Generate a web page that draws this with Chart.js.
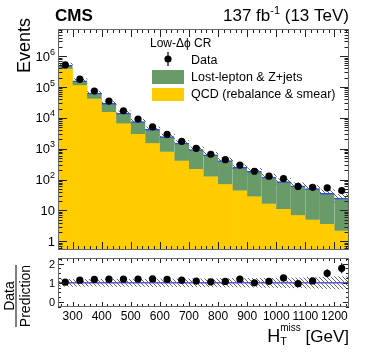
<!DOCTYPE html>
<html>
<head>
<meta charset="utf-8">
<script src="https://cdn.jsdelivr.net/npm/chart.js@4.4.0/dist/chart.umd.min.js"></script>
<style>
  html, body { margin: 0; padding: 0; background: #fff; }
  #wrap { position: relative; width: 374px; height: 359px; }
  canvas { position: absolute; left: 0; }
</style>
</head>
<body>
<div id="wrap">
  <canvas id="mainChart" width="374" height="254" style="top:0px"></canvas>
  <canvas id="ratioChart" width="374" height="105" style="top:254px"></canvas>
</div>
<script>
// bins of H_T^miss, 50 GeV wide
var htCenters = [275, 325, 375, 425, 475, 525, 575, 625, 675, 725, 775, 825, 875, 925, 975, 1025, 1075, 1125, 1175, 1225];
var dataCounts = [5.2e5, 1.8e5, 7.4e4, 3.5e4, 1.7e4, 9.1e3, 5.1e3, 2.9e3, 1730, 1030, 660, 440, 295, 186, 129, 108, 60, 56, 54, 44];
var qcdYield = [3.9e5, 1.14e5, 4.2e4, 1.56e4, 6.6e3, 3.0e3, 1.5e3, 790, 410, 220, 125, 71, 44, 28, 16.5, 11.2, 6.9, 5.0, 3.6, 2.2];
var lostLepYield = [1.15e5, 4.4e4, 2.1e4, 1.38e4, 7.7e3, 4.6e3, 2.75e3, 1670, 1110, 725, 504, 340, 204, 158, 103.5, 75, 56, 46, 32.4, 22.8];
var relUnc = [0.18, 0.18, 0.18, 0.19, 0.19, 0.19, 0.2, 0.2, 0.2, 0.21, 0.21, 0.22, 0.22, 0.23, 0.24, 0.25, 0.26, 0.28, 0.3, 0.32];

var xTickLabels = [300, 400, 500, 600, 700, 800, 900, 1000, 1100, 1200];
var yTickValues = [1, 10, 100, 1e3, 1e4, 1e5, 1e6];
var yTickLabels = ['1', '10', '10^2', '10^3', '10^4', '10^5', '10^6'];
var ratioTicks = [0, 1, 2];

var FONT = "'Liberation Sans', Arial, Helvetica, sans-serif";
var GREEN = '#699b69';
var YELLOW = '#ffcc00';
var BLUE = '#2f4fe0';

var predTotal = qcdYield.map(function(q, i) { return q + lostLepYield[i]; });
var ratioVals = dataCounts.map(function(d, i) { return d / predTotal[i]; });

function hatch() {
    var c = document.createElement('canvas');
    c.width = 4; c.height = 4;
    var g = c.getContext('2d');
    g.strokeStyle = '#555';
    g.lineWidth = 0.9;
    g.beginPath();
    g.moveTo(0, 0); g.lineTo(4, 4);
    g.moveTo(-1, 3); g.lineTo(1, 5);
    g.moveTo(3, -1); g.lineTo(5, 1);
    g.stroke();
    return g.createPattern(c, 'repeat');
}

function drawFrameTicks(chart, xMaj, xMin, yTicks) {
    var ctx = chart.ctx, a = chart.chartArea, xs = chart.scales.x;
    ctx.save();
    ctx.strokeStyle = '#222';
    ctx.lineWidth = 1;
    ctx.beginPath();
    for (var v = 260; v < 1250; v += 20) {
        var px = Math.round(xs.getPixelForValue(v)) + 0.5;
        var len = xTickLabels.indexOf(v) >= 0 ? xMaj : xMin;
        ctx.moveTo(px, a.bottom); ctx.lineTo(px, a.bottom - len);
        ctx.moveTo(px, a.top); ctx.lineTo(px, a.top + len);
    }
    yTicks.forEach(function(t) {
        var py = Math.round(chart.scales.y.getPixelForValue(t[0])) + 0.5;
        ctx.moveTo(a.left, py); ctx.lineTo(a.left + t[1], py);
        ctx.moveTo(a.right, py); ctx.lineTo(a.right - t[1], py);
    });
    ctx.stroke();
    ctx.strokeStyle = '#666';
    ctx.strokeRect(a.left + 0.5, a.top + 0.5, a.right - a.left - 1, a.bottom - a.top - 1);
    ctx.restore();
}

function drawPow(ctx, label, x, y) {
    var parts = label.split('^');
    ctx.font = '13px ' + FONT;
    var bw = ctx.measureText(parts[0]).width;
    var ew = 0;
    if (parts[1]) { ctx.font = '9px ' + FONT; ew = ctx.measureText(parts[1]).width; }
    ctx.textAlign = 'left';
    ctx.font = '13px ' + FONT;
    ctx.fillText(parts[0], x - bw - ew, y);
    if (parts[1]) { ctx.font = '9px ' + FONT; ctx.fillText(parts[1], x - ew, y - 6); }
}

function errBars(chart, counts, vals) {
    var ctx = chart.ctx, xs = chart.scales.x, ys = chart.scales.y;
    ctx.save();
    ctx.strokeStyle = '#000';
    ctx.lineWidth = 1.2;
    ctx.beginPath();
    vals.forEach(function(v, i) {
        var e = v / Math.sqrt(counts[i]);
        var px = xs.getPixelForValue(htCenters[i]);
        ctx.moveTo(px, ys.getPixelForValue(v + e));
        ctx.lineTo(px, ys.getPixelForValue(Math.max(v - e, ys.min)));
    });
    ctx.stroke();
    ctx.restore();
}

var mainDecor = {
    id: 'mainDecor',
    afterDatasetsDraw: function(chart) {
        errBars(chart, dataCounts, dataCounts);
    },
    afterDraw: function(chart) {
        var ctx = chart.ctx, a = chart.chartArea, ys = chart.scales.y;
        var ticks = [];
        for (var p = -1; p <= 7; p++) {
            for (var m = 1; m <= 9; m++) {
                var v = m * Math.pow(10, p);
                if (v >= ys.min && v <= ys.max) ticks.push([v, m === 1 ? 9 : 4.5]);
            }
        }
        drawFrameTicks(chart, 8, 4, ticks);

        ctx.save();
        ctx.fillStyle = '#000';
        yTickValues.forEach(function(v, i) {
            drawPow(ctx, yTickLabels[i], a.left - 3, ys.getPixelForValue(v) + 4.5);
        });

        // axis title
        ctx.save();
        ctx.translate(30, 18);
        ctx.rotate(-Math.PI / 2);
        ctx.font = '18px ' + FONT;
        ctx.textAlign = 'right';
        ctx.fillText('Events', 0, 0);
        ctx.restore();

        // header
        ctx.font = 'bold 17px ' + FONT;
        ctx.textAlign = 'left';
        ctx.fillText('CMS', 55, 21);
        ctx.font = '17px ' + FONT;
        var w2 = ctx.measureText(' (13 TeV)').width;
        ctx.font = '11px ' + FONT;
        var wSup = ctx.measureText('-1').width;
        ctx.font = '17px ' + FONT;
        var w1 = ctx.measureText('137 fb').width;
        var x0 = a.right - w2 - wSup - w1;
        ctx.fillText('137 fb', x0, 21);
        ctx.fillText(' (13 TeV)', x0 + w1 + wSup, 21);
        ctx.font = '11px ' + FONT;
        ctx.fillText('-1', x0 + w1, 14);

        // legend
        ctx.font = '12px ' + FONT;
        ctx.fillText('Low-\u0394\u03d5 CR', 150, 47);
        ctx.beginPath();
        ctx.arc(168, 59, 3.6, 0, Math.PI * 2);
        ctx.fill();
        ctx.fillRect(167.4, 52, 1.2, 14);
        ctx.font = '12.5px ' + FONT;
        ctx.fillText('Data', 191, 64);
        ctx.fillStyle = GREEN;
        ctx.fillRect(152, 70, 32, 14);
        ctx.fillStyle = YELLOW;
        ctx.fillRect(152, 88, 32, 13);
        ctx.fillStyle = '#000';
        ctx.fillText('Lost-lepton & Z+jets', 191, 81);
        ctx.fillText('QCD (rebalance & smear)', 191, 98);
        ctx.restore();
    }
};

var ratioDecor = {
    id: 'ratioDecor',
    afterDatasetsDraw: function(chart) {
        errBars(chart, dataCounts, ratioVals);
    },
    afterDraw: function(chart) {
        var ctx = chart.ctx, a = chart.chartArea, xs = chart.scales.x, ys = chart.scales.y;
        var ticks = [];
        for (var v = -0.25; v <= 2.3; v += 0.25) {
            ticks.push([v, Math.abs(v - Math.round(v)) < 1e-6 ? 6 : 3]);
        }
        drawFrameTicks(chart, 5, 3, ticks);

        ctx.save();
        ctx.fillStyle = '#000';
        ctx.font = '12px ' + FONT;
        ctx.textAlign = 'center';
        xTickLabels.forEach(function(t) {
            ctx.fillText(String(t), xs.getPixelForValue(t), a.bottom + 12.5);
        });
        ctx.font = '11px ' + FONT;
        ctx.textAlign = 'right';
        ratioTicks.forEach(function(t) {
            ctx.fillText(String(t), a.left - 3, ys.getPixelForValue(t) + 4);
        });

        // x title: H_T^miss [GeV]
        ctx.textAlign = 'left';
        ctx.font = '17px ' + FONT;
        var wG = ctx.measureText(' [GeV]').width;
        ctx.font = '10px ' + FONT;
        var wM = ctx.measureText('miss').width;
        ctx.font = '18px ' + FONT;
        var wH = ctx.measureText('H').width;
        var xg = a.right - wG;
        var xs0 = xg - wM;
        var base = 88;
        ctx.fillText('H', xs0 - wH, base);
        ctx.font = '10px ' + FONT;
        ctx.fillText('miss', xs0, base - 11);
        ctx.font = '11px ' + FONT;
        ctx.fillText('T', xs0, base + 3);
        ctx.font = '17px ' + FONT;
        ctx.fillText(' [GeV]', xg, base);

        // y title: Data / Prediction
        ctx.font = '14px ' + FONT;
        ctx.textAlign = 'center';
        ctx.save();
        ctx.translate(14, 42);
        ctx.rotate(-Math.PI / 2);
        ctx.fillText('Data', 0, 0);
        ctx.restore();
        ctx.save();
        ctx.translate(30, 42);
        ctx.rotate(-Math.PI / 2);
        ctx.fillText('Prediction', 0, 0);
        ctx.restore();
        ctx.fillRect(15.5, 11, 1, 62);
        ctx.restore();
    }
};

var barOpts = { barPercentage: 1, categoryPercentage: 1, grouped: false, clip: 0 };

function xy(vals) {
    return htCenters.map(function(x, i) { return { x: x, y: vals[i] }; });
}

var ctx = document.getElementById('mainChart');
var mainChart = new Chart(ctx, {
    type: 'bar',
    data: {
        datasets: [
            {
                type: 'line',
                label: 'Data',
                data: xy(dataCounts),
                showLine: false,
                pointRadius: 3.6,
                pointBackgroundColor: '#000',
                pointBorderWidth: 0,
                order: 0
            },
            Object.assign({
                label: 'Lost-lepton & Z+jets',
                data: htCenters.map(function(x, i) { return { x: x, y: [qcdYield[i], predTotal[i]] }; }),
                backgroundColor: GREEN,
                borderColor: BLUE,
                borderWidth: { top: 1.5, left: 0, right: 0, bottom: 0 },
                borderSkipped: 'bottom',
                order: 1
            }, barOpts),
            Object.assign({
                label: 'QCD (rebalance & smear)',
                data: xy(qcdYield),
                backgroundColor: YELLOW,
                order: 2
            }, barOpts),
            Object.assign({
                label: 'Uncertainty',
                data: htCenters.map(function(x, i) { return { x: x, y: [predTotal[i] * (1 - relUnc[i]), predTotal[i] * (1 + relUnc[i])] }; }),
                backgroundColor: hatch(),
                borderWidth: 0,
                order: 3
            }, barOpts)
        ]
    },
    options: {
        responsive: false,
        animation: false,
        devicePixelRatio: 1,
        layout: { padding: { left: 58, right: 25, top: 29, bottom: 1 } },
        plugins: { legend: { display: false }, tooltip: { enabled: false }, colors: { enabled: false } },
        scales: {
            x: { type: 'linear', min: 250, max: 1250, offset: false, display: false },
            y: { type: 'logarithmic', min: 0.52, max: 7.6e6, display: false }
        }
    },
    plugins: [mainDecor]
});

var ctx2 = document.getElementById('ratioChart');
var ratioChart = new Chart(ctx2, {
    type: 'bar',
    data: {
        datasets: [
            {
                type: 'line',
                label: 'Data/Prediction',
                data: xy(ratioVals),
                showLine: false,
                pointRadius: 3.6,
                pointBackgroundColor: '#000',
                pointBorderWidth: 0,
                order: 0
            },
            {
                type: 'line',
                label: 'unity',
                data: [{ x: 250, y: 1 }, { x: 1250, y: 1 }],
                borderColor: '#5a5ad8',
                borderWidth: 1.5,
                pointRadius: 0,
                fill: false,
                order: 1
            },
            Object.assign({
                label: 'Uncertainty',
                data: htCenters.map(function(x, i) { return { x: x, y: [1 - relUnc[i], 1 + relUnc[i]] }; }),
                backgroundColor: hatch(),
                borderWidth: 0,
                order: 2
            }, barOpts)
        ]
    },
    options: {
        responsive: false,
        animation: false,
        devicePixelRatio: 1,
        layout: { padding: { left: 58, right: 25, top: 1, bottom: 52 } },
        plugins: { legend: { display: false }, tooltip: { enabled: false }, colors: { enabled: false } },
        scales: {
            x: { type: 'linear', min: 250, max: 1250, offset: false, display: false },
            y: { type: 'linear', min: -0.27, max: 2.3, display: false }
        }
    },
    plugins: [ratioDecor]
});
</script>
</body>
</html>
